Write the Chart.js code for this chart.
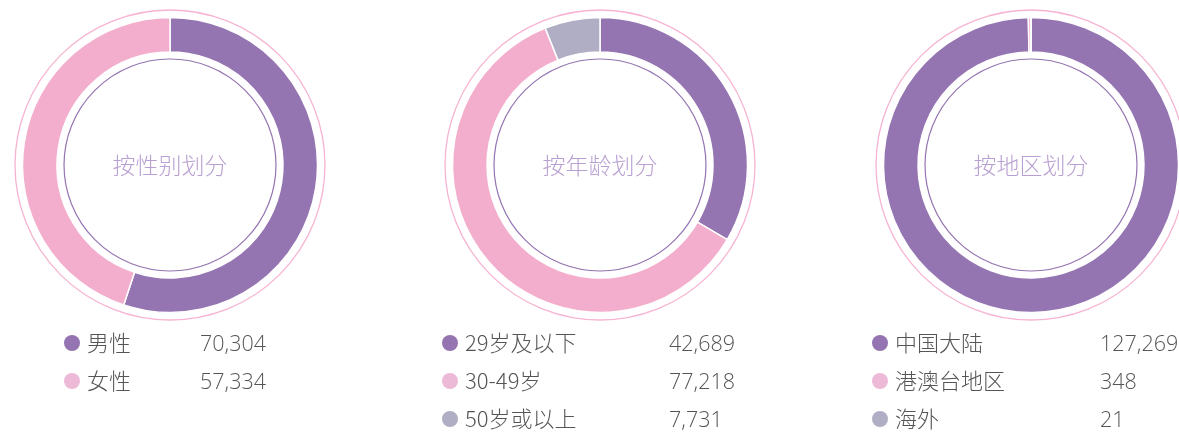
<!DOCTYPE html>
<html>
<head>
<meta charset="utf-8">
<script src="https://cdn.jsdelivr.net/npm/chart.js@4.4.0/dist/chart.umd.min.js"></script>
<style>
  html, body { margin: 0; padding: 0; background: #fff; overflow: hidden; }
  #wrap { position: relative; width: 1179px; height: 432px; overflow: hidden; }
  .box { position: absolute; top: 0; width: 430px; height: 432px; }
</style>
</head>
<body>
<div id="wrap">
  <div class="box" style="left:-45px"><canvas id="c1"></canvas></div>
  <div class="box" style="left:385px"><canvas id="c2"></canvas></div>
  <div class="box" style="left:816px"><canvas id="c3"></canvas></div>
</div>
<script>
// data
var genderTitle = "按性别划分";
var genderLabels = ["男性", "女性"];
var genderValues = [70304, 57334];

var ageTitle = "按年龄划分";
var ageLabels = ["29岁及以下", "30-49岁", "50岁或以上"];
var ageValues = [42689, 77218, 7731];

var regionTitle = "按地区划分";
var regionLabels = ["中国大陆", "港澳台地区", "海外"];
var regionValues = [127269, 348, 21];

// colours
var sliceColors = ["#9474b1", "#f4aecd", "#b0aec5"];
var dotColors = ["#9474b1", "#ecb9d6", "#b0aec5"];
var font = "'Noto Sans CJK SC', 'Noto Sans', sans-serif";
var numFont = "'Open Sans', 'Noto Sans CJK SC', sans-serif";

// rings around the doughnut, title in the middle, legend rows below
var ringDeco = {
  id: 'ringDeco',
  afterDatasetsDraw: function(chart, args, opts) {
    var arc = chart.getDatasetMeta(0).data[0];
    if (!arc) return;
    var ctx = chart.ctx;
    var cx = arc.x, cy = arc.y;
    ctx.save();
    // thin pink outer ring
    ctx.beginPath();
    ctx.arc(cx, cy, arc.outerRadius + 7.5, 0, Math.PI * 2);
    ctx.strokeStyle = "#f7b3d2";
    ctx.lineWidth = 1.3;
    ctx.stroke();
    // thin purple inner ring
    ctx.beginPath();
    ctx.arc(cx, cy, arc.innerRadius - 7, 0, Math.PI * 2);
    ctx.strokeStyle = "#9474b1";
    ctx.lineWidth = 1.2;
    ctx.stroke();
    // title
    ctx.fillStyle = "#b9a0d2";
    ctx.font = "300 23px " + font;
    ctx.textAlign = "center";
    ctx.textBaseline = "middle";
    ctx.fillText(opts.title, cx, cy);
    // legend
    var labels = chart.data.labels;
    var values = chart.data.datasets[0].data;
    var rowY = [343, 381, 419];
    ctx.textAlign = "left";
    for (var i = 0; i < labels.length; i++) {
      var y = rowY[i];
      ctx.beginPath();
      ctx.arc(cx + opts.dotX, y, 8, 0, Math.PI * 2);
      ctx.fillStyle = dotColors[i];
      ctx.fill();
      ctx.fillStyle = "#555555";
      ctx.font = "300 22px " + font;
      ctx.fillText(labels[i], cx + opts.dotX + 15, y);
      // Open Sans sits a little high with the middle baseline
      ctx.font = "300 21.5px " + numFont;
      ctx.fillText(values[i].toLocaleString('en-US'), cx + opts.valueX, y + 2);
    }
    ctx.restore();
  }
};

function makeDoughnut(id, title, labels, values, dotX, valueX) {
  var ctx = document.getElementById(id);
  return new Chart(ctx, {
    type: 'doughnut',
    data: {
      labels: labels,
      datasets: [{
        data: values,
        backgroundColor: sliceColors.slice(0, values.length),
        borderColor: "#ffffff",
        borderWidth: 1.5
      }]
    },
    options: {
      responsive: true,
      maintainAspectRatio: false,
      animation: false,
      radius: 147.5,
      cutout: '76.6%',
      layout: { padding: { top: 10, bottom: 112, left: 10, right: 10 } },
      plugins: {
        legend: { display: false },
        tooltip: { enabled: false },
        ringDeco: { title: title, dotX: dotX, valueX: valueX }
      }
    },
    plugins: [ringDeco]
  });
}

makeDoughnut('c1', genderTitle, genderLabels, genderValues, -98, 30);
makeDoughnut('c2', ageTitle, ageLabels, ageValues, -150, 69);
makeDoughnut('c3', regionTitle, regionLabels, regionValues, -151, 69);
</script>
</body>
</html>
